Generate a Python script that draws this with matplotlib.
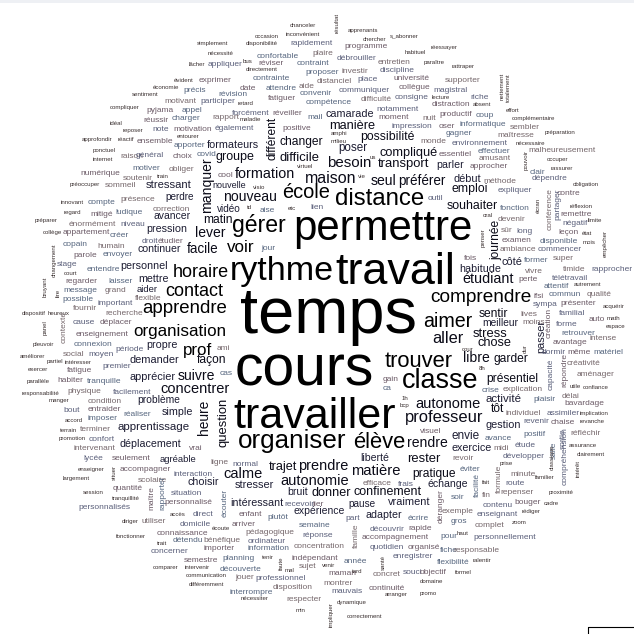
import matplotlib.pyplot as plt
from matplotlib.patches import Rectangle

plt.rcParams['font.family'] = ['Liberation Sans', 'DejaVu Sans']

# word weights (font size in px) for the frequent words
frequent = {
    'temps': 65, 'cours': 57, 'travail': 45, 'travailler': 43, 'permettre': 42,
    'rythme': 34, 'classe': 27, 'organiser': 26, 'distance': 24, 'gérer': 23,
    'trouver': 22, 'élève': 22, 'école': 20, 'aimer': 19.6, 'comprendre': 19,
    'apprendre': 18.6, 'horaire': 18, 'contact': 18, 'voir': 17, 'prof': 17,
    'organisation': 17, 'professeur': 16.5, 'aller': 16.4, 'maison': 16,
    'besoin': 15, 'matière': 14.7, 'calme': 14.6, 'autonomie': 14.6,
    'autonome': 14.6, 'concentrer': 14.6, 'prendre': 14.5, 'formation': 14.4,
    'étudiant': 14.4, 'nouveau': 14, 'seul': 14, 'lever': 14, 'manquer': 14,
    'suivre': 14, 'libre': 14, 'rendre': 14, 'heure': 13.7, 'préférer': 13.5,
    'facile': 13.5, 'transport': 13, 'difficile': 13, 'stress': 13,
    'question': 13, 'rester': 13, 'compliqué': 12.7, 'manière': 12.7,
    'chose': 12.7, 'trajet': 12.6, 'donner': 12.6, 'groupe': 12.5,
    'confinement': 12.5, 'souhaiter': 12.4, 'possibilité': 12.3, 'emploi': 12.2,
    'changer': 12, 'différent': 12, 'matin': 12, 'journée': 12, 'sentir': 12,
    'présentiel': 12, 'garder': 12, 'façon': 12, 'tôt': 12, 'pratique': 12,
    'envie': 11.7, 'poser': 11.6, 'activité': 11.5, 'apprentissage': 11.5,
    'stressant': 11.3, 'début': 11, 'côté': 11, 'passer': 11, 'demander': 11,
    'apprécier': 11, 'stresser': 11, 'vraiment': 11, 'gestion': 10.9,
    'camarade': 10.8, 'pression': 10.8, 'intéressant': 10.8, 'formateurs': 10.7,
    'personnel': 10.7, 'habitude': 10.7, 'propre': 10.7, 'simple': 10.7,
    'exercice': 10.7, 'choisir': 10.7, 'parler': 10.6, 'mettre': 10.6,
    'déplacement': 10.6, 'adapter': 10.6, 'continuer': 10.5, 'échange': 10.5,
    'bruit': 10.5, 'liberté': 10.5, 'avancer': 10.4, 'expérience': 10.4,
    'meilleur': 10.3, 'problème': 10.3, 'perdre': 10, 'vidéo': 10, 'pause': 10,
    'aider': 9.5, 'agréable': 9.5, 'nouvelle': 9,
}
SMALL = 8.4   # words seen a few times
TINY = 6.2    # words seen once

rare = [
    'résultat', 'chanceler', 'apprenants', 'occasion', 'inconvénient', 'chercher',
    's_abonner', 'disponibilité', 'simplement', 'nécessité', 'réessayer', 'habituel',
    'paraître', 'bus', 'lâcher', 'rattraper', 'directement', 'évident', 'nettement',
    'totalement', 'économie', 'sentiment', 'lecture', 'absent', 'retard', 'compliquer',
    'effort', 'complémentaire', 'maladie', 'idéal', 'préparation', 'amphi', 'reposer',
    'entourer', 'approfondir', 'réactif', 'milieu', 'nécessaire', 'ponctuel', 'internet',
    'occuper', 'virtuel', 'rassurer', 'vie', 'train', 'obligation', 'préoccuper', 'visio',
    'écran', 'innovant', 'réflexion', 'regard', 'etc', 'oral', 'limite', 'préparer',
    'penser', 'état', 'empêcher', 'collège', 'mois', 'changement', 'court', 'autrement',
    'bruyant', 'lire', 'acquérir', 'math', 'dispositif', 'heureux', 'panel', 'espace',
    'pleuvoir', 'améliorer', 'partiel', 'intéresser', 'exercer', 'utile', 'confiance',
    'parallèle', 'responsabilité', 'manger', '1h', 'bcp', 'implication', 'revanche',
    'accord', 'terrain', 'promotion', 'assurance', 'clairement', 'enseigner', 'situer',
    'classique', 'intérêt', 'largement', 'familier', 'prise', 'fait', 'session',
    'tranquillité', 'proximité', 'cadre', 'accès', 'rédiger', 'diriger', 'zoom', 'écoute',
    'haut', 'fonctionner', 'trait', 'tenir', 'faute', 'santé', 'ralentir', 'comparer',
    'intervenir', 'venir', 'tard', 'formel', 'mal', 'communication', 'domaine',
    'différemment', 'nécessiter', 'arranger', 'promo', 'dynamique', 'min', 'impliquer',
    'correctement', 'cour', 'dur', '8h', 'us', 'td', 'pouvoir',
]

vertical = [
    'résultat', 'nettement', 'totalement', 'différent', 'manquer', 'écran', 'conférence',
    'partager', 'penser', 'journée', 'empêcher', 'changement', 'bruyant', 'lire', 'panel',
    'contexte', 'passer', 'création', 'capacité', 'répondre', 'dur', 'heure', 'question',
    'sortie', 'salle', 'formule', 'compréhension', 'classique', 'intérêt', 'situer',
    'facilité', 'maître', 'rapporter', 'déranger', 'écouter', 'famille', 'faute', 'santé',
    'impliquer', 'pouvoir',
]

# cloud layout: left end of the baseline of each word, in pixels
layout = {
    'résultat': (339, 33), 'chanceler': (290, 27), 'apprenants': (348, 32),
    'occasion': (255, 38), 'inconvénient': (286, 36), 'chercher': (363, 41),
    's_abonner': (390, 37), 'disponibilité': (246, 45), 'rapidement': (290, 45),
    'programme': (344, 48), 'simplement': (197, 45), 'nécessité': (208, 55),
    'réessayer': (431, 49), 'habituel': (405, 54), 'confortable': (257, 58),
    'plaire': (312, 55), 'débrouiller': (337, 60), 'paraître': (424, 64),
    'bus': (243, 63), 'lâcher': (189, 66), 'appliquer': (208, 66), 'réviser': (258, 65),
    'contraint': (297, 65), 'entretien': (378, 64), 'rattraper': (452, 68),
    'directement': (246, 71), 'proposer': (305, 74), 'investir': (341, 73),
    'discipline': (380, 72), 'exprimer': (199, 82), 'évident': (174, 82),
    'supporter': (445, 82), 'nettement': (504, 100), 'totalement': (510, 102),
    'contrainte': (253, 80), 'distanciel': (317, 83), 'place': (357, 81),
    'université': (393, 80), 'précis': (183, 92), 'économie': (153, 89),
    'magistral': (433, 92), 'date': (240, 90), 'attendre': (266, 90), 'aide': (299, 88),
    'communiquer': (339, 92), 'collègue': (399, 89), 'révision': (218, 96),
    'sentiment': (132, 96), 'riche': (470, 99), 'lecture': (432, 99),
    'convenir': (300, 95), 'motivant': (164, 103), 'participer': (200, 103),
    'fatiguer': (268, 100), 'compétence': (306, 104), 'difficulté': (361, 101),
    'consigne': (395, 99), 'distraction': (432, 106), 'absent': (473, 106),
    'retard': (238, 105), 'compliquer': (110, 109), 'pyjama': (146, 112),
    'appel': (182, 112), 'effort': (506, 112), 'forcément': (232, 115),
    'réveiller': (272, 115), 'mail': (307, 119), 'camarade': (325, 117),
    'notamment': (376, 111), 'productif': (439, 116), 'coup': (476, 117),
    'nuit': (422, 120), 'complémentaire': (512, 120), 'réussir': (143, 122),
    'charger': (172, 120), 'rapport': (212, 119), 'maladie': (240, 121),
    'moment': (378, 119), 'idéal': (110, 125), 'manière': (329, 129),
    'impression': (392, 128), 'oser': (439, 128), 'informatique': (460, 126),
    'sembler': (510, 129), 'également': (215, 130), 'positive': (282, 130),
    'différent': (276, 160), 'reposer': (123, 132), 'note': (152, 131),
    'motivation': (173, 131), 'gagner': (446, 135), 'maîtresse': (497, 137),
    'préparation': (545, 134), 'amphi': (331, 135), 'entourer': (177, 138),
    'approfondir': (82, 141), 'réactif': (118, 141), 'ensemble': (137, 143),
    'apporter': (174, 147), 'formateurs': (207, 148), 'milieu': (331, 143),
    'changer': (280, 145), 'possibilité': (360, 140), 'monde': (420, 143),
    'environnement': (452, 145), 'nécessaire': (516, 145), 'ponctuel': (93, 152),
    'raison': (120, 158), 'général': (136, 157), 'choix': (173, 158), 'covid': (197, 156),
    'poser': (338, 151), 'compliqué': (380, 156), 'essentiel': (439, 156),
    'effectuer': (478, 153), 'malheureusement': (528, 152), 'internet': (93, 161),
    'groupe': (216, 160), 'difficile': (280, 161), 'amusant': (479, 160),
    'occuper': (547, 161), 'virtuel': (297, 168), 'besoin': (327, 167),
    'transport': (378, 167), 'parler': (436, 168), 'approcher': (470, 168),
    'clair': (530, 174), 'rassurer': (551, 170), 'pouvoir': (528, 170),
    'numérique': (80, 175), 'motiver': (132, 170), 'obliger': (169, 171),
    'manquer': (211, 213), 'cool': (218, 177), 'formation': (235, 178),
    'maison': (305, 183), 'vie': (358, 178), 'seul': (371, 185), 'préférer': (398, 185),
    'soutenir': (123, 180), 'train': (157, 178), 'us': (370, 159), 'début': (453, 182),
    'méthode': (483, 183), 'dépendre': (532, 180), 'obligation': (573, 186),
    'préoccuper': (70, 186), 'sommeil': (105, 187), 'stressant': (146, 188),
    'nouvelle': (212, 188), 'visio': (253, 189), 'emploi': (451, 192),
    'expliquer': (498, 192), 'contre': (557, 195), 'écran': (540, 213),
    'conférence': (552, 230), 'partager': (559, 220), 'innovant': (61, 204),
    'compte': (88, 204), 'présence': (120, 201), 'perdre': (165, 200),
    'nouveau': (223, 201), 'école': (282, 198), 'distance': (335, 205),
    'outil': (428, 200), 'souhaiter': (447, 209), 'fonction': (500, 210),
    'réflexion': (570, 208), 'regard': (64, 214), 'mitigé': (90, 216),
    'ludique': (115, 214), 'correction': (153, 211), 'vidéo': (217, 212),
    'td': (247, 209), 'aise': (260, 212), 'etc': (288, 210), 'lien': (310, 209),
    'remettre': (560, 216), 'oral': (483, 217), 'devenir': (498, 221),
    'négatif': (562, 225), 'limite': (588, 222), 'préparer': (35, 222),
    'énormément': (69, 226), 'niveau': (120, 226), 'avancer': (153, 219),
    'matin': (203, 223), 'gérer': (232, 232), 'permettre': (293, 240),
    'penser': (485, 247), 'journée': (499, 260), 'sûr': (501, 232), 'long': (516, 233),
    'leçon': (558, 234), 'état': (582, 235), 'empêcher': (607, 257),
    'collège': (43, 234), 'appartement': (63, 234), 'créer': (110, 237),
    'pression': (146, 232), 'lever': (195, 237), 'examen': (502, 242),
    'disponible': (540, 243), 'mois': (583, 244), 'droit': (142, 243),
    'étudier': (158, 243), 'copain': (63, 246), 'humain': (97, 248),
    'changement': (56, 277), 'voir': (227, 252), 'jour': (261, 250),
    'ambiance': (500, 251), 'commencer': (538, 251), 'parole': (73, 257),
    'envoyer': (103, 256), 'continuer': (137, 252), 'facile': (187, 253),
    'fois': (464, 260), 'former': (524, 262), 'super': (553, 260), 'stage': (57, 266),
    'personnel': (120, 269), 'côté': (502, 265), 'timide': (563, 271),
    'rapprocher': (591, 271), 'court': (64, 275), 'entendre': (87, 271),
    'horaire': (173, 277), 'rythme': (230, 280), 'travail': (335, 284),
    'habitude': (459, 272), 'vivre': (525, 273), 'télétravail': (552, 280),
    'regarder': (65, 283), 'laisser': (108, 283), 'mettre': (138, 282),
    'étudiant': (462, 283), 'perte': (518, 281), 'attentif': (544, 288),
    'autrement': (574, 286), 'bruyant': (47, 297), 'lire': (60, 297),
    'message': (63, 292), 'grand': (105, 292), 'aider': (137, 292), 'contact': (165, 296),
    'possible': (62, 301), 'flexible': (135, 300), 'comprendre': (430, 302),
    'ifsi': (533, 298), 'commun': (549, 296), 'qualité': (587, 296), 'sympa': (533, 306),
    'présenter': (560, 305), 'acquérir': (603, 308), 'fournir': (73, 310),
    'important': (98, 305), 'apprendre': (142, 313), 'sentir': (479, 317),
    'lives': (520, 316), 'familial': (559, 315), 'auto': (589, 321), 'math': (607, 320),
    'recherche': (105, 315), 'dispositif': (22, 315), 'heureux': (48, 315),
    'panel': (47, 335), 'contexte': (66, 343), 'cause': (73, 324), 'déplacer': (100, 324),
    'meilleur': (482, 326), 'moins': (522, 324), 'forme': (556, 326), 'espace': (606, 328),
    'aimer': (423, 327), 'temps': (240, 333), 'passer': (544, 353), 'création': (551, 338),
    'retrouver': (561, 335), 'intense': (589, 340), 'stress': (473, 337),
    'enseignement': (76, 336), 'organisation': (133, 336), 'aller': (432, 343),
    'chose': (478, 346), 'avantage': (553, 344), 'connexion': (74, 346),
    'pleuvoir': (33, 346), 'période': (115, 351), 'propre': (146, 348), 'prof': (183, 355),
    'ami': (217, 350), 'dormir': (542, 354), 'même': (567, 354), 'matériel': (593, 354),
    'social': (63, 356), 'moyen': (88, 356), 'améliorer': (20, 358), 'partiel': (47, 363),
    'intéresser': (65, 364), 'premier': (102, 368), 'demander': (130, 363),
    'façon': (197, 363), 'cour': (462, 351), 'dur': (527, 353), 'libre': (463, 362),
    'garder': (493, 362), 'créativité': (567, 365), 'capacité': (553, 390),
    'répondre': (566, 387), 'trouver': (385, 367), '8h': (479, 370), 'exercer': (28, 371),
    'fatigue': (67, 372), 'cas': (220, 375), 'aménager': (577, 376),
    'parallèle': (27, 383), 'habiter': (57, 382), 'tranquille': (87, 383),
    'apprécier': (130, 380), 'suivre': (178, 380), 'gain': (383, 381), 'ca': (383, 390),
    'classe': (402, 388), 'présentiel': (486, 382), 'cours': (235, 385),
    'crise': (482, 392), 'explication': (503, 391), 'utile': (570, 388),
    'confiance': (583, 389), 'responsabilité': (22, 395), 'physique': (67, 393),
    'facilement': (113, 394), 'concentrer': (160, 393), 'manger': (49, 402),
    'condition': (88, 403), 'problème': (137, 403), '1h': (402, 400),
    'plaisir': (533, 401), 'délai': (562, 398), 'activité': (486, 402),
    'bavardage': (564, 405), 'bcp': (400, 407), 'autonome': (415, 408), 'bout': (63, 412),
    'entraider': (88, 411), 'tôt': (491, 412), 'individuel': (505, 415),
    'assimiler': (547, 415), 'implication': (580, 415), 'réaliser': (123, 416),
    'simple': (162, 415), 'heure': (208, 435), 'question': (227, 447),
    'imposer': (88, 420), 'professeur': (405, 422), 'revenir': (523, 423),
    'chaise': (551, 424), 'revanche': (580, 423), 'accord': (65, 422),
    'gestion': (485, 428), 'visuel': (420, 433), 'terrain': (60, 432),
    'terminer': (80, 431), 'apprentissage': (118, 430), 'travailler': (233, 428),
    'positif': (523, 436), 'réfléchir': (570, 435), 'sortie': (565, 449),
    'envie': (452, 439), 'avance': (485, 440), 'promotion': (59, 440),
    'confort': (89, 441), 'rendre': (407, 447), 'exercice': (452, 451), 'midi': (493, 450),
    'étude': (515, 447), 'assurance': (569, 447), 'salle': (556, 459),
    'intervenant': (73, 450), 'déplacement': (119, 447), 'vrai': (189, 450),
    'organiser': (238, 448), 'élève': (353, 448), 'lycée': (83, 460),
    'seulement': (112, 460), 'agréable': (160, 462), 'ligne': (210, 464),
    'normal': (232, 466), 'liberté': (360, 461), 'rester': (407, 462), 'revoir': (452, 460),
    'développer': (503, 458), 'clairement': (577, 456), 'éviter': (460, 471),
    'formule': (501, 493), 'compréhension': (567, 485), 'classique': (554, 470),
    'intérêt': (580, 477), 'enseigner': (78, 471), 'situer': (116, 480),
    'accompagner': (120, 471), 'trajet': (269, 470), 'prendre': (298, 470),
    'matière': (351, 475), 'pratique': (412, 477), 'largement': (63, 480),
    'scolaire': (138, 482), 'interaction': (173, 476), 'choisir': (187, 485),
    'calme': (223, 478), 'minute': (510, 476), 'familier': (535, 479), 'prise': (500, 465),
    'facilité': (479, 497), 'fait': (482, 484), 'route': (505, 485), 'quantité': (113, 490),
    'autonomie': (280, 485), 'efficace': (363, 485), 'frais': (398, 486),
    'échange': (427, 487), 'stresser': (235, 488), 'session': (83, 494),
    'situation': (171, 495), 'maître': (153, 510), 'rapporter': (164, 510),
    'tranquillité': (112, 500), 'bruit': (287, 495), 'donner': (312, 496),
    'confinement': (354, 495), 'repenser': (500, 494), 'proximité': (549, 494),
    'déranger': (443, 523), 'soir': (451, 499), 'fin': (482, 497),
    'personnalisés': (78, 509), 'personnalisé': (164, 504), 'écouter': (227, 517),
    'intéressant': (230, 506), 'recevoir': (284, 506), 'lier': (312, 506),
    'pause': (348, 507), 'vraiment': (388, 505), 'contenu': (483, 507),
    'bouger': (514, 504), 'cadre': (544, 505), 'accès': (170, 516), 'direct': (193, 516),
    'enfant': (239, 516), 'plutôt': (267, 519), 'expérience': (293, 514),
    'part': (345, 520), 'adapter': (366, 518), 'écrire': (408, 520), 'exemple': (442, 513),
    'enseignant': (477, 516), 'rédiger': (522, 513), 'diriger': (122, 523),
    'utiliser': (141, 523), 'domicile': (180, 526), 'arriver': (232, 526),
    'semaine': (299, 527), 'famille': (358, 548), 'découvrir': (370, 531),
    'rapide': (408, 530), 'gros': (451, 523), 'complet': (475, 527), 'zoom': (512, 524),
    'connaissance': (157, 535), 'écoute': (212, 530), 'pédagogique': (245, 534),
    'réponse': (302, 537), 'accompagnement': (362, 539), 'pour': (440, 538),
    'haut': (457, 535), 'personnellement': (473, 539), 'fonctionner': (116, 538),
    'détendu': (173, 542), 'bénéfique': (203, 542), 'ordinateur': (248, 543),
    'trait': (157, 545), 'information': (248, 550), 'concentration': (294, 548),
    'quotidien': (370, 549), 'organisé': (408, 549), 'fiche': (440, 552),
    'responsable': (453, 552), 'concerner': (151, 553), 'importer': (204, 550),
    'planning': (222, 560), 'tenir': (262, 559), 'faute': (283, 570),
    'indépendant': (292, 560), 'année': (344, 563), 'santé': (385, 570),
    'enregistrer': (393, 558), 'semestre': (184, 562), 'flexibilité': (437, 564),
    'ralentir': (473, 562), 'comparer': (153, 569), 'intervenir': (185, 569),
    'découverte': (220, 571), 'sujet': (299, 568), 'venir': (322, 567), 'maman': (328, 575),
    'tard': (352, 573), 'concret': (373, 576), 'souci': (403, 574), 'objectif': (420, 574),
    'formel': (455, 574), 'jouer': (235, 579), 'professionnel': (255, 580),
    'mal': (285, 572), 'communication': (186, 577), 'montrer': (323, 585),
    'domaine': (420, 583), 'différemment': (189, 586), 'interrompre': (230, 594),
    'disposition': (273, 589), 'mauvais': (331, 593), 'continuité': (369, 590),
    'nécessiter': (241, 600), 'respecter': (286, 601), 'arranger': (385, 596),
    'promo': (420, 595), 'dynamique': (337, 604), 'min': (296, 612),
    'impliquer': (333, 627), 'correctement': (347, 618),
}

grey_tones = ['#5a5f7a', '#6b5a66', '#55657e', '#75676b']


def word_color(size, i):
    if size >= 17:
        return '#000000'
    if size >= 12:
        return '#0b0b18'
    if size >= 9:
        return '#1d1d33'
    if size <= TINY:
        return '#3a3030'
    return grey_tones[i % len(grey_tones)]


fig = plt.figure(figsize=(6.34, 6.34), dpi=100)
ax = fig.add_axes([0, 0, 1, 1])
ax.set_xlim(0, 634)
ax.set_ylim(634, 0)
ax.axis('off')

ax.add_patch(Rectangle((0, 0), 634, 3, color='#eef0f4', lw=0))
ax.add_patch(Rectangle((588, 627), 60, 20, fill=False, ec='black', lw=0.8))

for i, (w, (x, y)) in enumerate(layout.items()):
    if w in frequent:
        size = frequent[w]
    elif w in rare:
        size = TINY
    else:
        size = SMALL
    ax.text(x, y, w, fontsize=size * 0.72, color=word_color(size, i),
            ha='left', va='baseline',
            rotation=90 if w in vertical else 0, rotation_mode='anchor')

fig.savefig('out.png', dpi=100)
